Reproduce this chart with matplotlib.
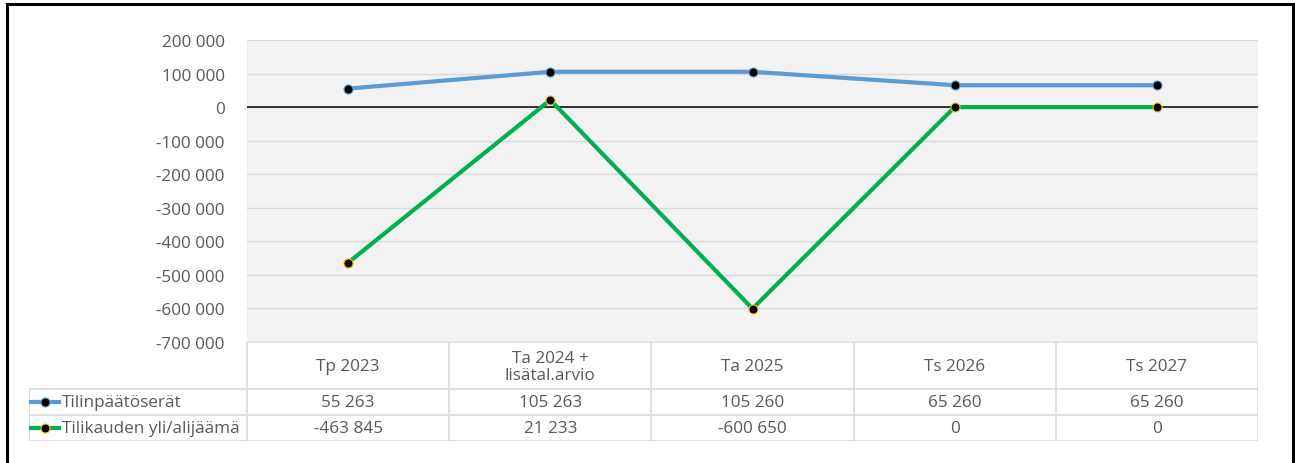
import numpy as np
import matplotlib
matplotlib.use("Agg")
import matplotlib.pyplot as plt
from matplotlib.lines import Line2D
from matplotlib.patches import Rectangle

# Data
categories = ["Tp 2023", "Ta 2024 +\nlisätal.arvio", "Ta 2025", "Ts 2026", "Ts 2027"]
tilinpaatoserat = [55263, 105263, 105260, 65260, 65260]
tilikauden_tulos = [-463845, 21233, -600650, 0, 0]
series_names = ["Tilinpäätöserät", "Tilikauden yli/alijäämä"]
y_ticks = np.arange(-700000, 200001, 100000)

W, H = 1295, 464
plt.rcParams["font.family"] = ["Open Sans", "DejaVu Sans"]
text_col = "#595959"
grid_col = "#d9d9d9"
blue = "#5b9bd5"
green = "#00b050"
fs = 12.3


def fmt(v):
    s = f"{abs(int(v)):,}".replace(",", " ")
    return "-" + s if v < 0 else s


def px_box(x0, y0, x1, y1):
    """pixel box (top-left origin) -> figure fraction rect"""
    return [x0 / W, 1 - y1 / H, (x1 - x0) / W, (y1 - y0) / H]


fig = plt.figure(figsize=(W / 100, H / 100), dpi=100)

# outer black frame
fig.patches.append(Rectangle((7 / W, -0.05), (1293 - 7) / W, 1 - 5 / H + 0.05,
                             transform=fig.transFigure, fill=False,
                             edgecolor="black", linewidth=2.2))

# --- line chart ---
ax = fig.add_axes(px_box(247, 41, 1258, 343))
ax.set_facecolor("#f2f2f2")
x = np.arange(len(categories))
ax.set_xlim(-0.5, len(categories) - 0.5)
ax.set_ylim(-700000, 200000)
ax.set_yticks(y_ticks)
ax.set_yticklabels([fmt(v) for v in y_ticks], color=text_col, fontsize=fs)
ax.tick_params(axis="y", length=0, pad=16)
ax.set_xticks([])
ax.grid(axis="y", color=grid_col, linewidth=1)
ax.set_axisbelow(True)
for s in ax.spines.values():
    s.set_visible(False)
ax.axhline(0, color="black", linewidth=1.1, zorder=2)

ax.plot(x, tilinpaatoserat, color=blue, linewidth=3, marker="o", markersize=6.5,
        markerfacecolor="black", markeredgecolor=blue, markeredgewidth=0.8, zorder=3)
ax.plot(x, tilikauden_tulos, color=green, linewidth=3, marker="o", markersize=6.5,
        markerfacecolor="black", markeredgecolor="#ffc000", markeredgewidth=0.8, zorder=3)

# --- data table ---
lab_w = (247 - 29) / 202.2
tx = fig.add_axes(px_box(29, 343, 1258, 442))
tx.set_xlim(-0.5 - lab_w, len(categories) - 0.5)
tx.set_ylim(442, 343)
tx.axis("off")

row_y = [343, 390, 416, 442]
lc = {"color": grid_col, "linewidth": 1.2}
# horizontal lines
tx.plot([-0.5, 4.5], [row_y[0]] * 2, **lc)
for yy in row_y[1:]:
    tx.plot([-0.5 - lab_w, 4.5], [yy] * 2, **lc)
# vertical lines
tx.plot([-0.5 - lab_w] * 2, [row_y[1], row_y[3]], **lc)
for i in range(len(categories) + 1):
    tx.plot([i - 0.5] * 2, [row_y[0], row_y[3]], **lc)

for i, c in enumerate(categories):
    tx.text(i, (row_y[0] + row_y[1]) / 2 + 1, c, ha="center", va="center",
            color=text_col, fontsize=fs, linespacing=1.05)

for r, (vals, name, col, edge) in enumerate([
        (tilinpaatoserat, series_names[0], blue, blue),
        (tilikauden_tulos, series_names[1], green, "#ffc000")]):
    yc = (row_y[r + 1] + row_y[r + 2]) / 2
    for i, v in enumerate(vals):
        tx.text(i, yc, fmt(v), ha="center", va="center", color=text_col, fontsize=fs)
    x0 = -0.5 - lab_w + 0.01
    tx.add_line(Line2D([x0, x0 + 0.14], [yc, yc], color=col, linewidth=3))
    tx.add_line(Line2D([x0 + 0.07], [yc], marker="o", markersize=6.5,
                       markerfacecolor="black", markeredgecolor=edge,
                       markeredgewidth=0.8))
    tx.text(x0 + 0.155, yc, name, ha="left", va="center", color=text_col, fontsize=fs)

fig.savefig("out.png", dpi=100)
